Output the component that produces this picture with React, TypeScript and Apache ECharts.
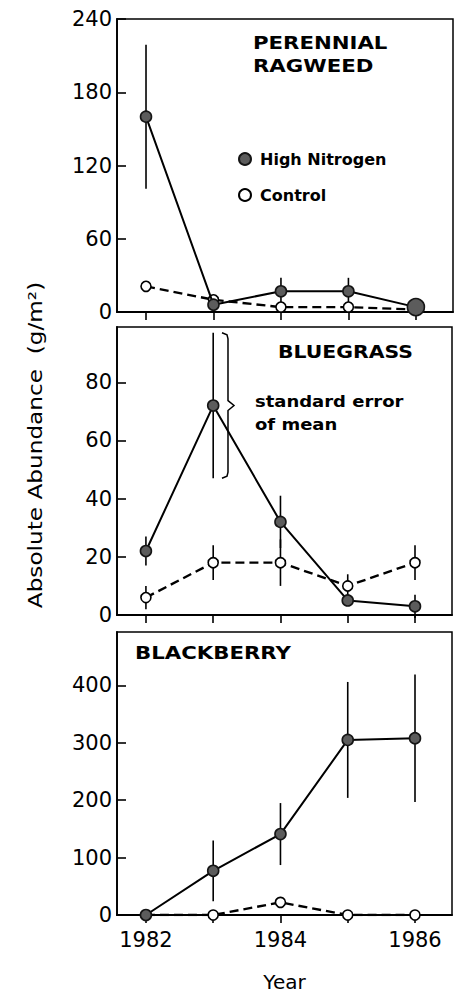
import React, { useEffect, useRef } from 'react';
import * as echarts from 'echarts';

const years = [1982, 1983, 1984, 1985, 1986];
const xLabelYears = [1982, 1984, 1986];

const ragweedHigh = [160, 6, 17, 17, 4];
const ragweedHighSE = [59, 0, 11, 11, 0];
const ragweedControl = [21, 10, 4, 4, 2];
const ragweedControlSE = [4, 3, 4, 4, 0];
const ragweedTicks = [0, 60, 120, 180, 240];

const bluegrassHigh = [22, 72, 32, 5, 3];
const bluegrassHighSE = [5, 25, 9, 0, 4];
const bluegrassControl = [6, 18, 18, 10, 18];
const bluegrassControlSE = [4, 6, 8, 4, 6];
const bluegrassTicks = [0, 20, 40, 60, 80];

const blackberryHigh = [0, 77, 141, 305, 308];
const blackberryHighSE = [0, 53, 54, 101, 111];
const blackberryControl = [0, 0, 22, 0, 0];
const blackberryControlSE = [0, 0, 6, 0, 0];
const blackberryTicks = [0, 100, 200, 300, 400];

const FONT = 'DejaVu Sans';

const panels = [
  { grid: { left: 117, top: 19, width: 336, height: 293 }, yMax: 240, ticks: ragweedTicks, high: ragweedHigh, highSE: ragweedHighSE, ctrl: ragweedControl, ctrlSE: ragweedControlSE },
  { grid: { left: 117, top: 327, width: 335, height: 288 }, yMax: 99, ticks: bluegrassTicks, high: bluegrassHigh, highSE: bluegrassHighSE, ctrl: bluegrassControl, ctrlSE: bluegrassControlSE },
  { grid: { left: 117, top: 632, width: 335, height: 291 }, yMax: 493, ticks: blackberryTicks, high: blackberryHigh, highSE: blackberryHighSE, ctrl: blackberryControl, ctrlSE: blackberryControlSE },
];

function errData(v: number[], se: number[]) {
  const out: number[][] = [];
  years.forEach((y, i) => {
    if (se[i] > 0) out.push([y, v[i] - se[i], v[i] + se[i]]);
  });
  return out;
}

function errSeries(i: number, v: number[], se: number[]) {
  return {
    type: 'custom',
    xAxisIndex: i,
    yAxisIndex: i,
    z: 2,
    silent: true,
    encode: { x: 0, y: [1, 2] },
    data: errData(v, se),
    renderItem: (params: any, api: any) => {
      const x = api.value(0);
      const p1 = api.coord([x, api.value(1)]);
      const p2 = api.coord([x, api.value(2)]);
      return {
        type: 'line',
        shape: { x1: p1[0], y1: p1[1], x2: p2[0], y2: p2[1] },
        style: { stroke: '#000', lineWidth: 1.6 },
      };
    },
  };
}

export default function App() {
  const ref = useRef<HTMLDivElement>(null);
  useEffect(() => {
    if (!ref.current) return;
    const chart = echarts.init(ref.current, undefined, { renderer: 'svg' });
    const series: any[] = [];
    panels.forEach((p, i) => {
      series.push(errSeries(i, p.ctrl, p.ctrlSE));
      series.push(errSeries(i, p.high, p.highSE));
      series.push({
        type: 'line',
        name: 'Control',
        xAxisIndex: i,
        yAxisIndex: i,
        z: 3,
        data: years.map((y, k) => [y, p.ctrl[k]]),
        symbol: 'circle',
        symbolSize: 10,
        lineStyle: { color: '#000', width: 2.4, type: [9, 5] },
        itemStyle: { color: '#fff', borderColor: '#000', borderWidth: 1.6 },
      });
      series.push({
        type: 'line',
        name: 'High Nitrogen',
        xAxisIndex: i,
        yAxisIndex: i,
        z: 4,
        data: years.map((y, k) => [y, p.high[k]]),
        symbol: 'circle',
        symbolSize: i === 0 ? (v: any, prm: any) => (prm.dataIndex === 4 ? 17 : 11) : 11,
        lineStyle: { color: '#000', width: 2 },
        itemStyle: { color: '#5c5c5c', borderColor: '#151515', borderWidth: 1.6 },
      });
    });

    const option: any = {
      animation: false,
      backgroundColor: '#fff',
      grid: panels.map((p) => ({ ...p.grid, show: true, borderColor: '#000', borderWidth: 1.5, backgroundColor: 'transparent' })),
      xAxis: panels.map((p, i) => ({
        type: 'value',
        gridIndex: i,
        min: 1981.57,
        max: 1986.55,
        name: i === 2 ? 'Year' : '',
        nameLocation: 'middle',
        nameGap: 57,
        nameTextStyle: { fontSize: 20, color: '#000', fontFamily: FONT },
        axisLine: { show: true, lineStyle: { color: '#000', width: 1.8 } },
        axisTick: { show: true, inside: false, length: 8, customValues: years, lineStyle: { color: '#000', width: 1.6 } },
        axisLabel: {
          show: i === 2,
          customValues: xLabelYears,
          formatter: (v: number) => String(v),
          fontSize: 21,
          color: '#000',
          fontFamily: FONT,
          margin: 14,
        },
        splitLine: { show: false },
      })),
      yAxis: panels.map((p, i) => ({
        type: 'value',
        gridIndex: i,
        min: 0,
        max: p.yMax,
        axisLine: { show: true, lineStyle: { color: '#000', width: 1.8 } },
        axisTick: { show: true, inside: true, length: 9, customValues: p.ticks, lineStyle: { color: '#000', width: 1.6 } },
        axisLabel: { customValues: p.ticks, fontSize: 21, color: '#000', fontFamily: FONT, margin: 5 },
        splitLine: { show: false },
      })),
      legend: {
        data: ['High Nitrogen', 'Control'],
        orient: 'vertical',
        left: 233,
        top: 146,
        icon: 'circle',
        itemWidth: 12,
        itemHeight: 12,
        itemGap: 20,
        textStyle: { fontSize: 16, fontWeight: 'bold', fontFamily: FONT, color: '#000', padding: [0, 0, 0, 4] },
      },
      series,
    };
    chart.setOption(option);

    const bx = 1983.22;
    const top = chart.convertToPixel({ xAxisIndex: 1, yAxisIndex: 1 } as any, [bx, bluegrassHigh[1] + bluegrassHighSE[1]]) as number[];
    const bot = chart.convertToPixel({ xAxisIndex: 1, yAxisIndex: 1 } as any, [bx, bluegrassHigh[1] - bluegrassHighSE[1]]) as number[];
    const x0 = top[0];
    const yT = top[1];
    const yB = bot[1];
    const yM = (yT + yB) / 2;

    const titleStyle = { fontSize: 17, fontWeight: 'bold', fontFamily: FONT, fill: '#000', textVerticalAlign: 'middle' };
    const noteStyle = { fontSize: 15, fontWeight: 'bold', fontFamily: FONT, fill: '#000', textVerticalAlign: 'middle' };
    chart.setOption({
      graphic: [
        { type: 'text', x: 253, y: 43, scaleX: 1.25, style: { ...titleStyle, text: 'PERENNIAL' } },
        { type: 'text', x: 253, y: 66, scaleX: 1.25, style: { ...titleStyle, text: 'RAGWEED' } },
        { type: 'text', x: 278, y: 352, scaleX: 1.2, style: { ...titleStyle, text: 'BLUEGRASS' } },
        { type: 'text', x: 135, y: 653, scaleX: 1.25, style: { ...titleStyle, text: 'BLACKBERRY' } },
        { type: 'text', x: 255, y: 402, scaleX: 1.2, style: { ...noteStyle, text: 'standard error' } },
        { type: 'text', x: 255, y: 425, scaleX: 1.2, style: { ...noteStyle, text: 'of mean' } },
        {
          type: 'polyline',
          shape: {
            points: [
              [x0 - 6, yT], [x0 - 1, yT + 2], [x0, yT + 6], [x0, yM - 5], [x0 + 6, yM],
              [x0, yM + 5], [x0, yB - 6], [x0 - 1, yB - 2], [x0 - 6, yB],
            ],
          },
          style: { stroke: '#000', lineWidth: 1.5, fill: 'none' },
        },
        {
          type: 'text',
          x: 35,
          y: 445,
          rotation: Math.PI / 2,
          scaleX: 1.22,
          style: { text: 'Absolute Abundance  (g/m²)', fontSize: 19, fontFamily: FONT, fill: '#000', textAlign: 'center', textVerticalAlign: 'middle' },
        },
      ],
    });
    return () => chart.dispose();
  }, []);
  return <div ref={ref} style={{ position: 'fixed', left: 0, top: 0, width: 463, height: 993 }} />;
}
